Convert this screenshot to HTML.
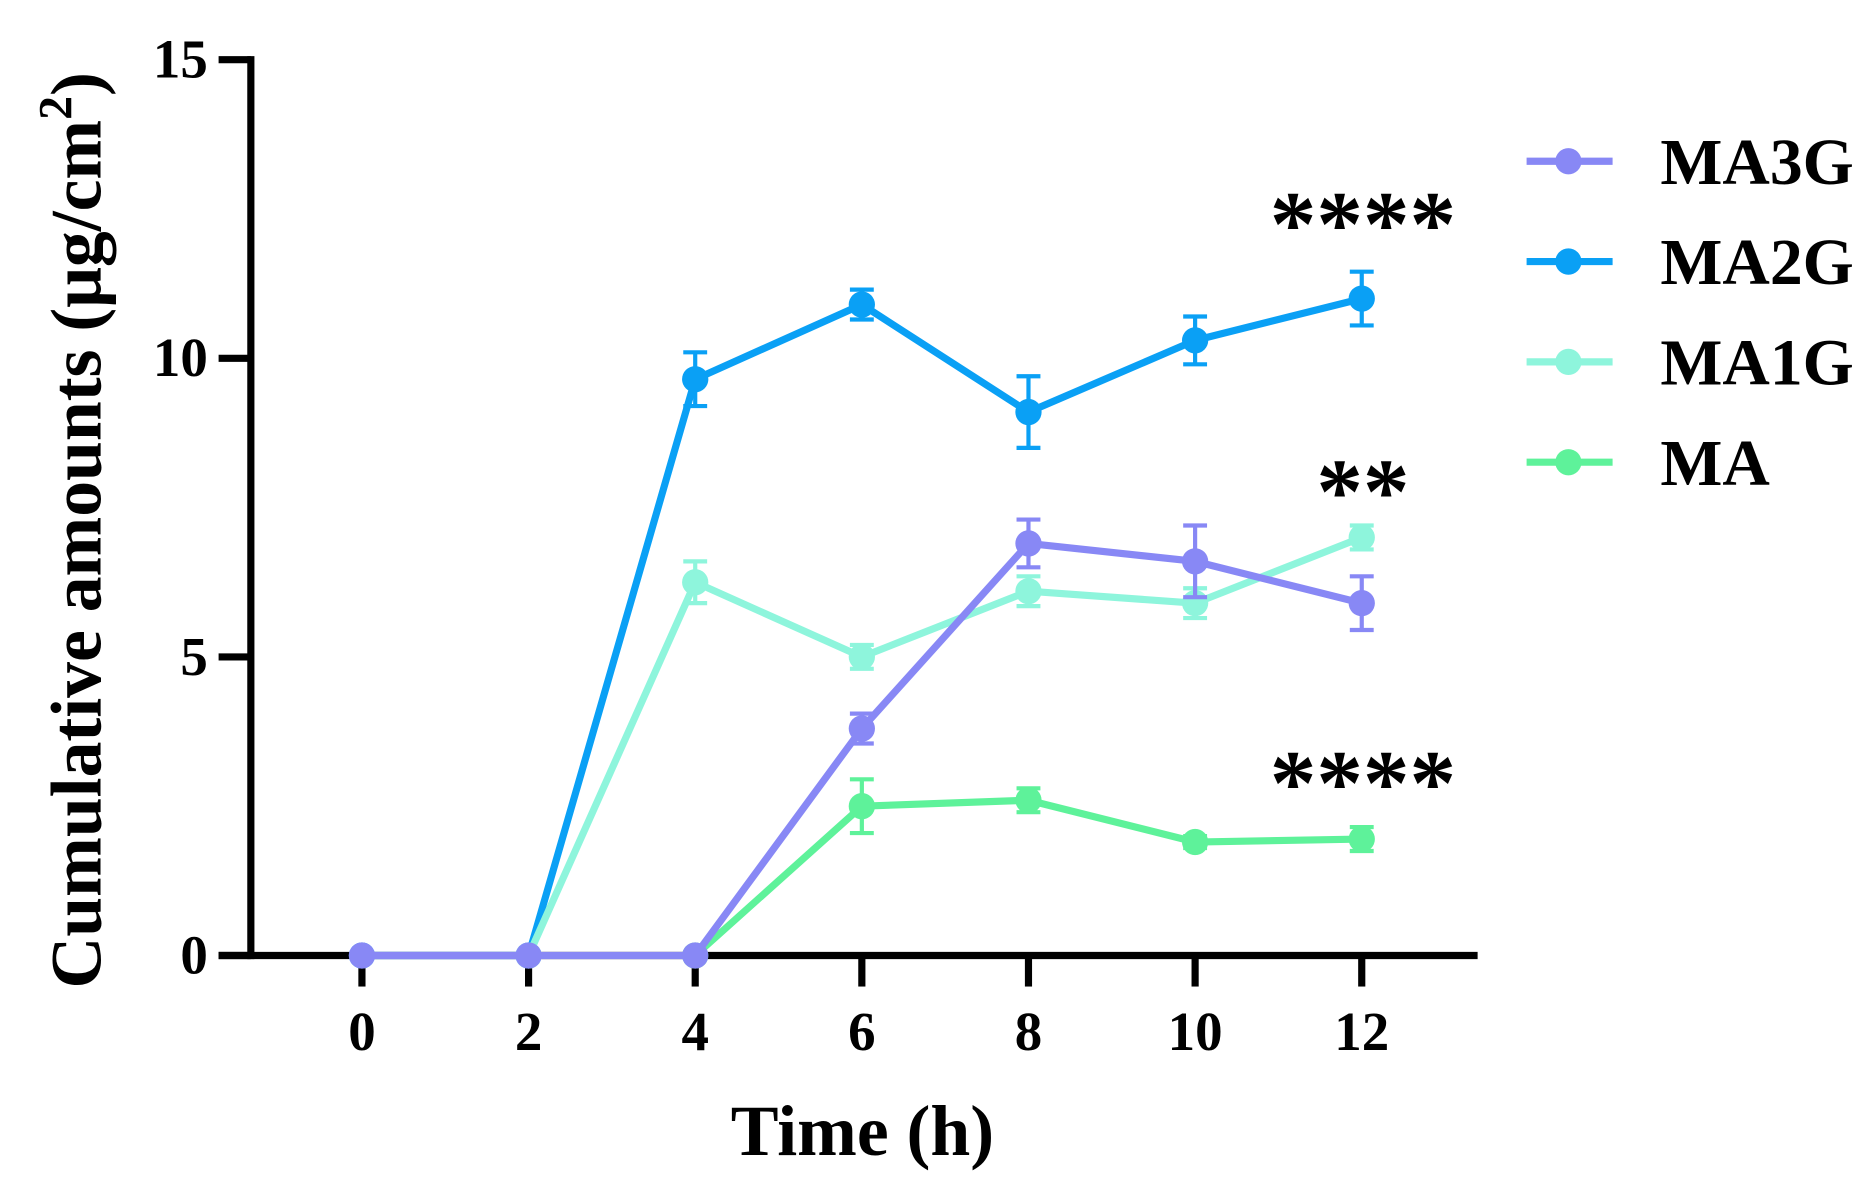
<!DOCTYPE html>
<html><head><meta charset="utf-8"><style>html,body{margin:0;padding:0;background:#fff}svg{display:block}text{font-family:"Liberation Serif",serif;font-weight:bold;fill:#000}</style></head>
<body>
<svg id="chart" width="1873" height="1186" viewBox="0 0 1568 993" preserveAspectRatio="none" xmlns="http://www.w3.org/2000/svg">
<g id="axes"></g>
<g id="series"></g>
<g id="legend"></g>
<text transform="translate(84,444) rotate(-90)" text-anchor="middle" font-size="60">Cumulative amounts (μg/cm<tspan font-size="40" dy="-24">2</tspan><tspan dy="24">)</tspan></text>
<text x="722" y="967" text-anchor="middle" font-size="60">Time (h)</text>
<text x="1141" y="214" text-anchor="middle" font-size="78">****</text>
<text x="1141" y="438" text-anchor="middle" font-size="78">**</text>
<text x="1141" y="682" text-anchor="middle" font-size="78">****</text>
</svg>
<script>
const times=[0,2,4,6,8,10,12];
const xTicks=[0,2,4,6,8,10,12];
const yTicks=[0,5,10,15];
const seriesNames=["MA2G","MA1G","MA","MA3G"];
const ma2gValues=[0,0,9.65,10.9,9.1,10.3,11.0];
const ma2gErrors=[0,0,0.45,0.25,0.6,0.4,0.45];
const ma1gValues=[null,0,6.25,5.0,6.1,5.9,7.0];
const ma1gErrors=[0,0,0.35,0.2,0.25,0.25,0.2];
const ma3gValues=[0,0,0,3.8,6.9,6.6,5.9];
const ma3gErrors=[0,0,0,0.25,0.4,0.6,0.45];
const maValues=[null,null,0,2.5,2.6,1.9,1.95];
const maErrors=[0,0,0,0.45,0.2,0.1,0.2];
const legendOrder=["MA3G","MA2G","MA1G","MA"];
const colors={MA3G:"#8888f5",MA2G:"#0aa0f5",MA1G:"#8ef5dc",MA:"#5ef29a"};
const NS="http://www.w3.org/2000/svg";
const xs=t=>303+(t/12)*(1140-303);
const ys=v=>800-(v/15)*750;
function mk(tag,attrs,parent){const e=document.createElementNS(NS,tag);for(const k in attrs)e.setAttribute(k,attrs[k]);parent.appendChild(e);return e;}
const ax=document.getElementById('axes');
let e=mk('line',{x1:210,y1:47,x2:210,y2:803,stroke:'#000','stroke-width':6},ax);


e=mk('line',{x1:183,y1:800,x2:1237,y2:800,stroke:'#000','stroke-width':6},ax);


yTicks.forEach(v=>{
 let t=mk('line',{x1:183,y1:ys(v),x2:210,y2:ys(v),stroke:'#000','stroke-width':6},ax);
 
 
 let l=mk('text',{x:174,y:ys(v)+15,'text-anchor':'end','font-size':46},ax);l.textContent=v;
 
 
});
xTicks.forEach(v=>{
 let t=mk('line',{x1:xs(v),y1:800,x2:xs(v),y2:826,stroke:'#000','stroke-width':6},ax);
 
 
 let l=mk('text',{x:xs(v),y:879,'text-anchor':'middle','font-size':46},ax);l.textContent=v;
 
 
});
const sg=document.getElementById('series');
const data={MA2G:[ma2gValues,ma2gErrors],MA1G:[ma1gValues,ma1gErrors],MA3G:[ma3gValues,ma3gErrors],MA:[maValues,maErrors]};
seriesNames.forEach(name=>{
 const [vals,errs]=data[name];const c=colors[name];
 const g=mk('g',{},sg);
 
 
 const pts=[];times.forEach((t,i)=>{if(vals[i]!==null)pts.push([xs(t),ys(vals[i])]);});
 let p=mk('polyline',{points:pts.map(q=>q.join(',')).join(' '),fill:'none',stroke:c,'stroke-width':6,'stroke-linejoin':'round'},g);
 
 
 times.forEach((t,i)=>{
  if(vals[i]===null)return;
  const x=xs(t);
  if(errs[i]>0){
   const y1=ys(vals[i]+errs[i]),y2=ys(vals[i]-errs[i]);
   let eb=mk('path',{d:`M${x},${y1}V${y2}M${x-10},${y1}H${x+10}M${x-10},${y2}H${x+10}`,stroke:c,'stroke-width':3.5,fill:'none'},g);
   
   
  }
  let m=mk('circle',{cx:x,cy:ys(vals[i]),r:11,fill:c},g);
  
  
 });
});
const lg=document.getElementById('legend');
legendOrder.forEach((name,i)=>{
 const y=135+i*84;const c=colors[name];
 const g=mk('g',{},lg);
 
 
 mk('line',{x1:1278,y1:y,x2:1350,y2:y,stroke:c,'stroke-width':6},g);
 mk('circle',{cx:1313,cy:y,r:11,fill:c},g);
 const t=mk('text',{x:1390,y:y+19,'font-size':55},g);t.textContent=name;
});
</script>
</body></html>
